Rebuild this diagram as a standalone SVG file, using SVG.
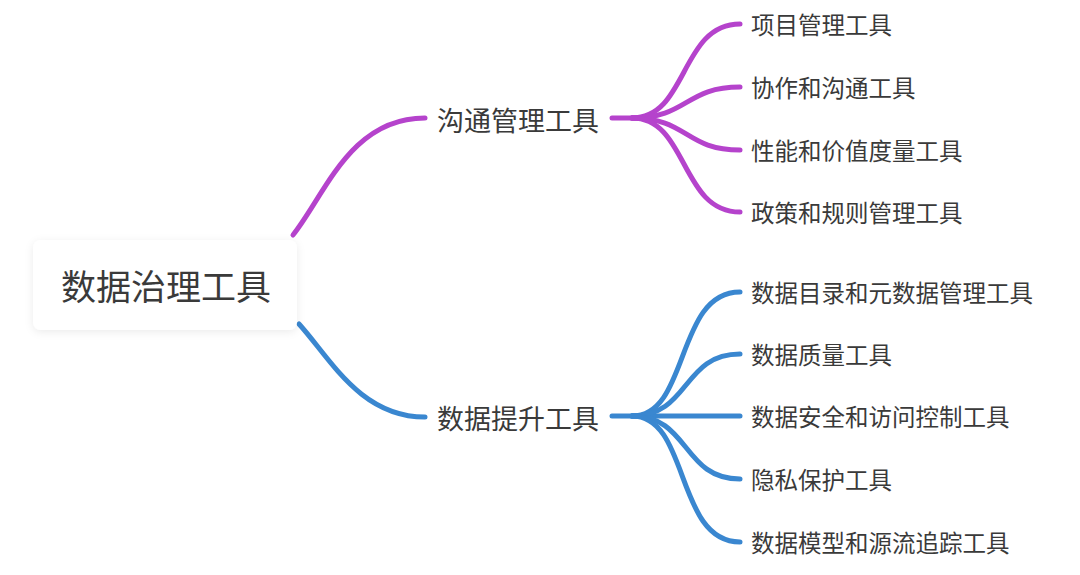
<svg xmlns="http://www.w3.org/2000/svg" width="1080" height="575" viewBox="0 0 1080 575">
<defs>
<filter id="sh" x="-20%" y="-30%" width="140%" height="160%">
<feDropShadow dx="0" dy="2" stdDeviation="4" flood-color="#000" flood-opacity="0.08"/>
</filter>
</defs>
<style>
text{font-family:"Noto Sans CJK SC","Noto Sans",sans-serif;fill:#3a3a3a;dominant-baseline:central}
.root{font-size:35px}
.l1{font-size:27px}
.l2{font-size:23.5px}
.p{fill:none;stroke:#B543CC;stroke-width:5;stroke-linecap:round}
.b{fill:none;stroke:#3A87D0;stroke-width:5;stroke-linecap:round}
</style>
<rect width="1080" height="575" fill="#fff"/>
<g id="connectors">
<path class="p" d="M293,235 C325,195 350,118 425,118"/>
<path class="p" d="M612,118 L640,118"/>
<path class="p" d="M632,118 C688,118 680,24 740,24"/>
<path class="p" d="M632,118 C688,118 685,87 740,87"/>
<path class="p" d="M632,118 C688,118 685,150 740,150"/>
<path class="p" d="M632,118 C688,118 680,212 740,212"/>
<path class="b" d="M299,324 C330,358 360,417 425,417"/>
<path class="b" d="M612,416 L740,416"/>
<path class="b" d="M632,416 C690,416 675,292 740,292"/>
<path class="b" d="M632,416 C690,416 682,354 740,354"/>
<path class="b" d="M632,416 C690,416 682,479 740,479"/>
<path class="b" d="M632,416 C690,416 675,542 740,542"/>
</g>
<g id="root">
<rect x="33" y="240" width="264" height="90" rx="8" fill="#fff" filter="url(#sh)"/>
<text class="root" x="166" y="284" text-anchor="middle">数据治理工具</text>
</g>
<g id="n-goutong"><text class="l1" x="437" y="119">沟通管理工具</text></g>
<g id="n-tisheng"><text class="l1" x="437" y="417">数据提升工具</text></g>
<g id="c1"><text class="l2" x="751" y="24">项目管理工具</text></g>
<g id="c2"><text class="l2" x="751" y="87">协作和沟通工具</text></g>
<g id="c3"><text class="l2" x="751" y="150">性能和价值度量工具</text></g>
<g id="c4"><text class="l2" x="751" y="212">政策和规则管理工具</text></g>
<g id="c5"><text class="l2" x="751" y="292">数据目录和元数据管理工具</text></g>
<g id="c6"><text class="l2" x="751" y="354">数据质量工具</text></g>
<g id="c7"><text class="l2" x="751" y="416">数据安全和访问控制工具</text></g>
<g id="c8"><text class="l2" x="751" y="479">隐私保护工具</text></g>
<g id="c9"><text class="l2" x="751" y="542">数据模型和源流追踪工具</text></g>
</svg>
